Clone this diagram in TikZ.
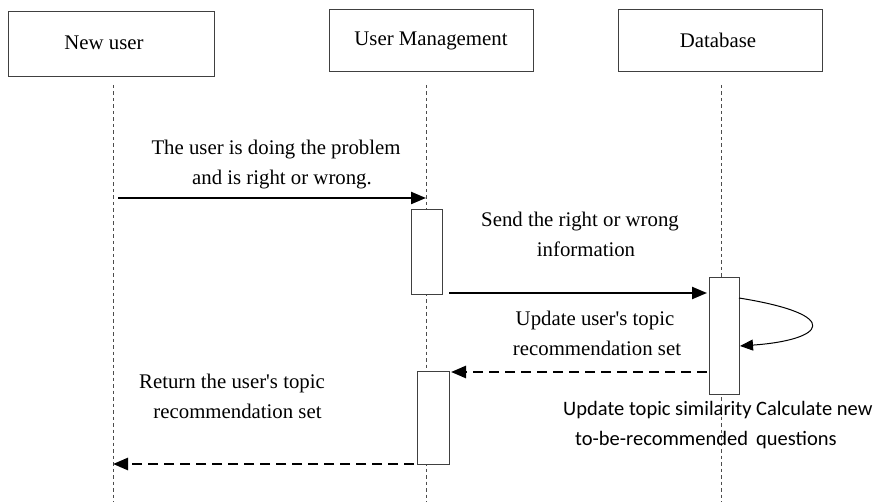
\documentclass[tikz,border=0pt]{standalone}
\usepackage{fontspec}
\setmainfont{Liberation Serif}
\newfontfamily\notefont{Carlito}
\usetikzlibrary{arrows.meta}

\begin{document}
\begin{tikzpicture}[x=1pt,y=-1pt,
  actor/.style={draw=black!75, line width=1pt, fill=white, inner sep=0pt,
    minimum width=204pt, minimum height=62pt, font=\fontsize{20.8}{23}\selectfont},
  lifeline/.style={draw=black!70, line width=0.8pt, dash pattern=on 3.5pt off 3pt},
  activation/.style={draw=black!75, line width=1pt, fill=white, inner sep=0pt},
  call/.style={line width=2.2pt, -{Triangle[length=15pt,width=12pt]}},
  reply/.style={line width=2.5pt, dash pattern=on 10pt off 6pt,
    -{Triangle[length=15pt,width=12pt]}},
  msg/.style={font=\fontsize{20.8}{30}\selectfont, align=center, inner sep=0pt},
  note/.style={font=\notefont\fontsize{20.5}{30}\selectfont, align=left, inner sep=0pt}]

\useasboundingbox (0,0) rectangle (880,502);

% participants
\node[actor, minimum width=206pt, minimum height=65pt] (user) at (111,44.5) {\raisebox{4pt}{New user}\hspace*{14pt}};
\node[actor] (mgmt) at (431,41) {\raisebox{2pt}{User Management}};
\node[actor] (db) at (720,41) {\raisebox{2pt}{Database}\hspace*{4pt}};

% lifelines
\coordinate (userTop) at (113,85);   \coordinate (userEnd) at (113,502);
\coordinate (mgmtTop) at (426,85);   \coordinate (mgmtEnd) at (426,502);
\coordinate (dbTop) at (721,85);     \coordinate (dbEnd) at (721,502);
\draw[lifeline] (userTop) -- (userEnd);
\draw[lifeline] (mgmtTop) -- (mgmtEnd);
\draw[lifeline] (dbTop) -- (dbEnd);

% activation bars
\node[activation, minimum width=31pt, minimum height=85pt] (act1) at (426.5,252.5) {};
\node[activation, minimum width=30pt, minimum height=116pt] (act2) at (724,336) {};
\node[activation, minimum width=32pt, minimum height=93pt] (act3) at (433,417.5) {};

% message 1: user -> management
\coordinate (m1s) at (118,198);
\coordinate (m1e) at (426,198);
\draw[call] (m1s) -- (m1e);
\node[msg] (lab1) at (276,165) {The user is doing the problem\\ \hspace*{12pt}and is right or wrong.};

% message 2: management -> database
\coordinate (m2s) at (449,293);
\coordinate (m2e) at (707,293);
\draw[call] (m2s) -- (m2e);
\node[msg] (lab2) at (580,234) {Send the right or wrong\\ \hspace*{12pt}information};

% self call on the database
\coordinate (s1) at (739,298);
\coordinate (s2) at (740,346);
\draw[line width=1pt, -{Triangle[length=13pt,width=11pt]}]
  (s1) .. controls (845,315) and (825,340) .. (s2);
\node[msg] (lab3) at (595,333) {Update user\textquotesingle s topic\\ \hspace*{4pt}recommendation set};

% reply: database -> management
\coordinate (r1s) at (707,372);
\coordinate (r1e) at (451,372);
\draw[reply] (r1s) -- (r1e);

% reply: management -> user
\coordinate (r2s) at (414,464);
\coordinate (r2e) at (113,464);
\draw[reply] (r2s) -- (r2e);
\node[msg] (lab4) at (232,396) {Return the user\textquotesingle s topic\\ \hspace*{11pt}recommendation set};

% processing note
\node[note, anchor=north west] (proc) at (563,401) {Update topic similarity Calculate new\\ \hspace*{12pt}to-be-recommended\, questions};

\end{tikzpicture}
\end{document}
